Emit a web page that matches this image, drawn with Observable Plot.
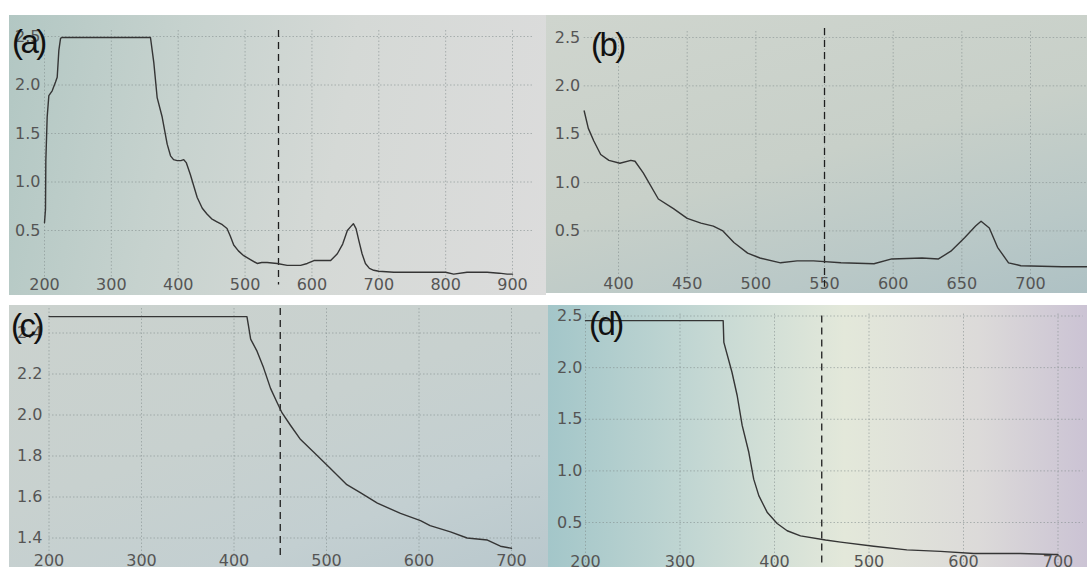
<!DOCTYPE html>
<html><head><meta charset="utf-8">
<script src="https://cdn.jsdelivr.net/npm/d3@7"></script>
<script src="https://cdn.jsdelivr.net/npm/@observablehq/plot@0.6"></script>
<style>
body{margin:0;background:#fff;}
#wrap{position:relative;width:1087px;height:567px;overflow:hidden;background:#fff;}
.panel{position:absolute;overflow:hidden;}
.panel svg{display:block;}
.tag{position:absolute;font-family:"Liberation Sans",Arial,sans-serif;font-size:33px;letter-spacing:-2.5px;color:#111;line-height:1;white-space:nowrap;}
#pa{left:9px;top:15px;width:537px;height:280px;background:linear-gradient(100deg,#b2c7c3 0%,#c6d2ce 30%,#d5d9d6 60%,#dcdcdc 100%);}
#pb{left:546px;top:15px;width:541px;height:278px;background:linear-gradient(165deg,#cfd5ce 0%,#c8d0c9 50%,#b9c8c7 80%,#aec1c4 100%);}
#pc{left:9px;top:305px;width:539px;height:262px;background:linear-gradient(160deg,#cbd2ce 0%,#c8d1cf 45%,#c3cfd1 75%,#b9c8cd 100%);}
#pd{left:548px;top:305px;width:539px;height:262px;background:linear-gradient(90deg,#a3c6c9 0%,#c3d7d3 28%,#e3e8da 55%,#dcdad9 80%,#cbc3d4 100%);}
</style></head>
<body><div id="wrap">
<div class="panel" id="pa"></div>
<div class="panel" id="pb"></div>
<div class="panel" id="pc"></div>
<div class="panel" id="pd"></div>
<div class="tag" style="left:12px;top:25px;">(a)</div>
<div class="tag" style="left:591px;top:28px;">(b)</div>
<div class="tag" style="left:11px;top:309px;">(c)</div>
<div class="tag" style="left:589px;top:307px;">(d)</div>
</div>
<script>
// Panel (a): wavelength (nm) vs absorbance
const aWl = [200, 201.5, 202, 204, 206.5, 211.5, 216.5, 219, 221.5, 224, 226, 358.5, 363.5, 368.5, 376, 383.5, 388.5, 393, 398.5, 404, 408.3, 412, 418, 428.4, 436, 443, 450, 458, 466, 473, 478, 483, 490, 498, 508, 518, 525, 533, 548, 563, 583, 593, 603, 615, 628, 638, 646, 653, 658, 662, 666, 670, 675, 680, 686, 692.5, 700, 722.5, 760, 800, 812, 832, 862, 880, 892, 900];
const aAbs = [0.58, 0.72, 1.22, 1.67, 1.89, 1.94, 2.03, 2.08, 2.36, 2.48, 2.49, 2.49, 2.23, 1.87, 1.67, 1.39, 1.27, 1.23, 1.22, 1.22, 1.23, 1.2, 1.08, 0.84, 0.73, 0.67, 0.62, 0.59, 0.56, 0.52, 0.44, 0.35, 0.29, 0.24, 0.2, 0.16, 0.17, 0.17, 0.16, 0.14, 0.14, 0.16, 0.19, 0.19, 0.19, 0.26, 0.36, 0.5, 0.54, 0.57, 0.52, 0.4, 0.26, 0.16, 0.11, 0.09, 0.08, 0.07, 0.07, 0.07, 0.05, 0.07, 0.07, 0.06, 0.05, 0.05];
const aXTicks = [200, 300, 400, 500, 600, 700, 800, 900];
const aYTicks = [0.5, 1.0, 1.5, 2.0, 2.5];
const aMarker = 550;

// Panel (b)
const bWl = [375, 378, 382, 387, 393, 401, 409, 412, 418, 429, 440, 450, 460, 469, 476, 484, 494, 503, 518, 530, 542, 562, 586, 599, 621, 633, 642, 652, 660, 664, 670, 676, 684, 693, 723, 741];
const bAbs = [1.74, 1.56, 1.43, 1.29, 1.23, 1.2, 1.23, 1.22, 1.1, 0.83, 0.73, 0.63, 0.58, 0.55, 0.5, 0.38, 0.27, 0.22, 0.17, 0.19, 0.19, 0.17, 0.16, 0.21, 0.22, 0.21, 0.29, 0.43, 0.55, 0.6, 0.53, 0.33, 0.17, 0.14, 0.13, 0.13];
const bXTicks = [400, 450, 500, 550, 600, 650, 700];
const bYTicks = [0.5, 1.0, 1.5, 2.0, 2.5];
const bMarker = 550;

// Panel (c)
const cWl = [200, 414, 415.5, 418, 425, 432, 439.5, 446.7, 452, 461, 472, 486, 504, 522, 537, 555, 580, 601.6, 612, 634, 652, 674, 688, 700];
const cAbs = [2.48, 2.48, 2.44, 2.37, 2.31, 2.23, 2.13, 2.06, 2.01, 1.95, 1.88, 1.82, 1.74, 1.66, 1.62, 1.57, 1.52, 1.485, 1.46, 1.43, 1.40, 1.39, 1.36, 1.35];
const cXTicks = [200, 300, 400, 500, 600, 700];
const cYTicks = [1.4, 1.6, 1.8, 2.0, 2.2, 2.4];
const cMarker = 450;

// Panel (d)
const dWl = [200, 345.7, 346.4, 355, 360.5, 365.8, 372.8, 378, 383.4, 392.2, 402.8, 413.4, 427.5, 454, 470, 505, 540, 575.7, 611, 660, 695.6, 700];
const dAbs = [2.455, 2.455, 2.245, 1.955, 1.73, 1.44, 1.18, 0.92, 0.76, 0.60, 0.49, 0.42, 0.37, 0.33, 0.31, 0.27, 0.235, 0.22, 0.20, 0.20, 0.19, 0.19];
const dXTicks = [200, 300, 400, 500, 600, 700];
const dYTicks = [0.5, 1.0, 1.5, 2.0, 2.5];
const dMarker = 450;

function drawPanel(id, wl, abs, xTicks, yTicks, marker, L) {
  const data = wl.map((w, i) => ({wl: w, abs: abs[i]}));
  const gridStyle = {stroke: "#7f8a8a", strokeOpacity: 0.55, strokeDasharray: "1.5,2"};
  const chart = Plot.plot({
    width: L.width, height: L.height,
    marginLeft: L.ml, marginRight: L.mr, marginTop: L.mt, marginBottom: L.mb,
    x: {domain: L.xDomain},
    y: {domain: L.yDomain},
    style: {background: "transparent", fontFamily: "'DejaVu Sans', sans-serif", fontSize: "16px", color: "#555"},
    marks: [
      Plot.gridX({ticks: xTicks, ...gridStyle, insetTop: L.gTop}),
      Plot.gridY({ticks: yTicks, ...gridStyle, insetRight: L.gRight}),
      Plot.axisX({ticks: xTicks, tickSize: 0, tickPadding: L.xPad, tickFormat: d => String(d), label: null, fontSize: 16}),
      Plot.axisY({ticks: yTicks, tickSize: 0, tickPadding: L.yPad, tickFormat: d3.format(".1f"), label: null, fontSize: 16}),
      Plot.ruleX([marker], {stroke: "#1e1e1e", strokeWidth: 1.3, strokeDasharray: "7,5", insetTop: L.rTop, insetBottom: L.rBottom}),
      Plot.line(data, {x: "wl", y: "abs", stroke: "#353535", strokeWidth: 1.4})
    ]
  });
  document.getElementById(id).appendChild(chart);
}

drawPanel("pa", aWl, aAbs, aXTicks, aYTicks, aMarker,
  {width: 537, height: 280, ml: 35, mr: 34, mt: 21, mb: 16.5, xDomain: [200, 900], yDomain: [0, 2.5],
   xPad: 0, yPad: 4, gTop: -6, gRight: -20, rTop: -6, rBottom: -6});
drawPanel("pb", bWl, bAbs, bXTicks, bYTicks, bMarker,
  {width: 541, height: 278, ml: 37.7, mr: 57, mt: 22, mb: 14.25, xDomain: [375, 700], yDomain: [0, 2.5],
   xPad: -2, yPad: 4, gTop: -6, gRight: -57, rTop: -9, rBottom: -8});
drawPanel("pc", cWl, cAbs, cXTicks, cYTicks, cMarker,
  {width: 539, height: 262, ml: 39.5, mr: 37, mt: 7, mb: 9, xDomain: [200, 700], yDomain: [1.3, 2.5],
   xPad: -4, yPad: 6.5, gTop: -4, gRight: -30, rTop: -4, rBottom: -2});
drawPanel("pd", dWl, dAbs, dXTicks, dYTicks, dMarker,
  {width: 539, height: 262, ml: 37, mr: 29.5, mt: 10.5, mb: 3.7, xDomain: [200, 700], yDomain: [0.1, 2.5],
   xPad: -8, yPad: 3, gTop: -2, gRight: -25, rTop: 0, rBottom: -4});
</script>
</body></html>
